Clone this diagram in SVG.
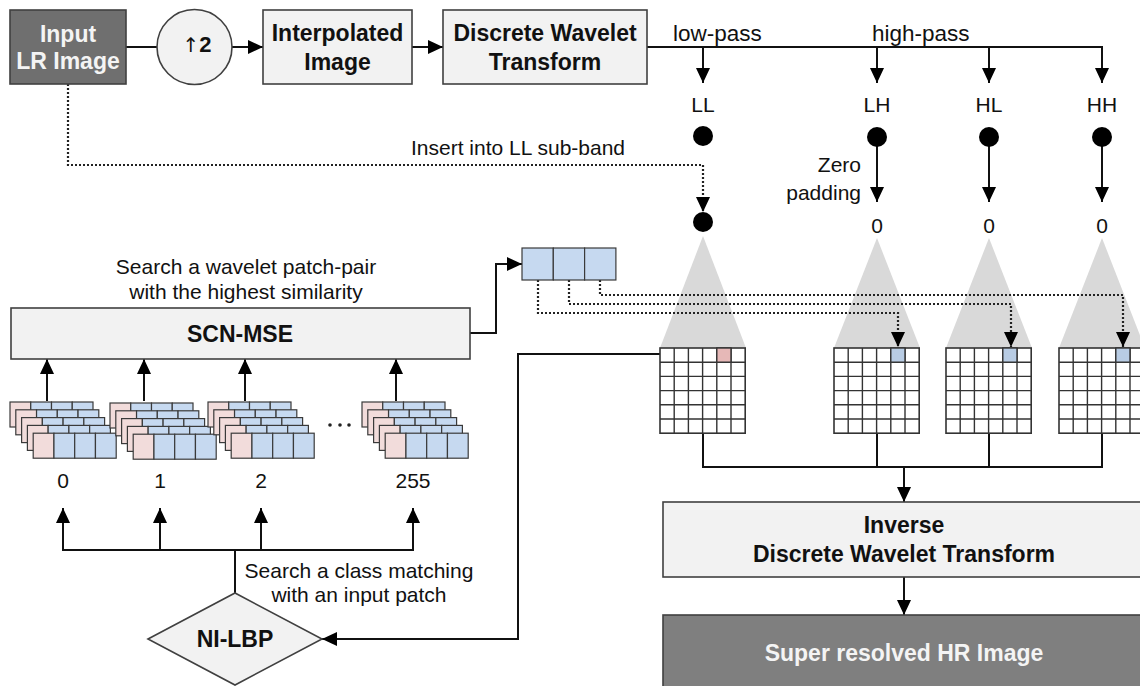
<svg xmlns="http://www.w3.org/2000/svg" xmlns:xlink="http://www.w3.org/1999/xlink" width="1140" height="686" viewBox="0 0 1140 686">
  <style>
    .box { fill: #f2f2f2; stroke: #404040; stroke-width: 1.6; }
    .dark { fill: #6f6f6f; stroke: #404040; stroke-width: 1.6; }
    .dark2 { fill: #7f7f7f; stroke: #404040; stroke-width: 1.6; }
    .bold { font-family: "Liberation Sans", Arial, sans-serif; font-weight: bold; font-size: 23px; fill: #111; text-anchor: middle; }
    .wbold { font-family: "Liberation Sans", Arial, sans-serif; font-weight: bold; font-size: 23px; fill: #f4f4f4; text-anchor: middle; }
    .lbl { font-family: "Liberation Sans", Arial, sans-serif; font-size: 21px; fill: #111; text-anchor: middle; }
    .lbl-s { font-family: "Liberation Sans", Arial, sans-serif; font-size: 21px; fill: #111; }
    .lbl-e { font-family: "Liberation Sans", Arial, sans-serif; font-size: 21px; fill: #111; text-anchor: end; }
    .pass { font-family: "Liberation Sans", Arial, sans-serif; font-size: 22.5px; fill: #111; }
    .wire { fill: none; stroke: #111; stroke-width: 2; }
    .dot-line { fill: none; stroke: #222; stroke-width: 2.2; stroke-dasharray: 2 2; }
    .pink { fill: #f2dcdb; stroke: #3a3a3a; stroke-width: 1.2; }
    .blue { fill: #c6d9f0; stroke: #3a3a3a; stroke-width: 1.2; }
    .cone { fill: #d9d9d9; }
    .gridln { fill: none; stroke: #333; stroke-width: 1.4; }
  </style>
  <defs>
    <marker id="arrow" markerUnits="userSpaceOnUse" markerWidth="16" markerHeight="16" refX="15" refY="7" orient="auto">
      <path d="M0,0 L15,7 L0,14 z" fill="#000"/>
    </marker>
    <!-- one patch-pair row: pink LR patch + three blue wavelet patches -->
    <g id="pair">
      <rect class="pink" x="0" y="0" width="20.75" height="25"/>
      <rect class="blue" x="20.75" y="0" width="20.75" height="25"/>
      <rect class="blue" x="41.5" y="0" width="20.75" height="25"/>
      <rect class="blue" x="62.25" y="0" width="20.75" height="25"/>
    </g>
    <g id="stack">
      <use xlink:href="#pair" x="0" y="0"/>
      <use xlink:href="#pair" x="5.8" y="7.8"/>
      <use xlink:href="#pair" x="11.6" y="15.6"/>
      <use xlink:href="#pair" x="17.4" y="23.4"/>
      <use xlink:href="#pair" x="23.2" y="31.2"/>
    </g>
    <!-- 6x6 sub-band grid, cell 14.2 -->
    <g id="grid">
      <rect x="0" y="0" width="85.2" height="85.2" fill="#fff" stroke="#333" stroke-width="1.6"/>
      <path class="gridln" d="M14.2,0V85.2M28.4,0V85.2M42.6,0V85.2M56.8,0V85.2M71,0V85.2M0,14.2H85.2M0,28.4H85.2M0,42.6H85.2M0,56.8H85.2M0,71H85.2"/>
    </g>
  </defs>

  <!-- sub-band cones -->
  <g id="cones">
    <polygon class="cone" points="703,236 660,348 746,348"/>
    <polygon class="cone" points="877,238 834,348 920,348"/>
    <polygon class="cone" points="989,238 946,348 1032,348"/>
    <polygon class="cone" points="1102,238 1059,348 1145,348"/>
  </g>

  <!-- connectors -->
  <g id="connectors">
    <line class="wire" x1="126" y1="47" x2="157" y2="47"/>
    <line class="wire" x1="232" y1="47" x2="263" y2="47" marker-end="url(#arrow)"/>
    <line class="wire" x1="412" y1="47" x2="443" y2="47" marker-end="url(#arrow)"/>
    <polyline class="wire" points="647,47 1102,47 1102,83" marker-end="url(#arrow)"/>
    <line class="wire" x1="703" y1="47" x2="703" y2="83" marker-end="url(#arrow)"/>
    <line class="wire" x1="877" y1="47" x2="877" y2="83" marker-end="url(#arrow)"/>
    <line class="wire" x1="989" y1="47" x2="989" y2="83" marker-end="url(#arrow)"/>
    <!-- zero padding of high-pass bands -->
    <line class="wire" x1="877" y1="137" x2="877" y2="202" marker-end="url(#arrow)"/>
    <line class="wire" x1="989" y1="137" x2="989" y2="202" marker-end="url(#arrow)"/>
    <line class="wire" x1="1102" y1="137" x2="1102" y2="202" marker-end="url(#arrow)"/>
    <!-- LR image into LL sub-band -->
    <polyline class="dot-line" points="68,84 68,165 703,165 703,212" marker-end="url(#arrow)"/>
    <!-- SCN-MSE to selected patch-pair -->
    <polyline class="wire" points="470,333 496,333 496,264 522,264" marker-end="url(#arrow)"/>
    <!-- wavelet patches to high-pass grids -->
    <polyline class="dot-line" points="538,280 538,313 898,313 898,347" marker-end="url(#arrow)"/>
    <polyline class="dot-line" points="569,280 569,304 1011,304 1011,347" marker-end="url(#arrow)"/>
    <polyline class="dot-line" points="600,280 600,295 1123,295 1123,347" marker-end="url(#arrow)"/>
    <!-- class stacks into SCN-MSE -->
    <line class="wire" x1="47" y1="401" x2="47" y2="359" marker-end="url(#arrow)"/>
    <line class="wire" x1="144" y1="401" x2="144" y2="359" marker-end="url(#arrow)"/>
    <line class="wire" x1="245" y1="401" x2="245" y2="359" marker-end="url(#arrow)"/>
    <line class="wire" x1="396" y1="401" x2="396" y2="359" marker-end="url(#arrow)"/>
    <!-- NI-LBP fan-out to classes -->
    <polyline class="wire" points="235,593 235,550"/>
    <line class="wire" x1="63" y1="550" x2="413" y2="550"/>
    <line class="wire" x1="63" y1="551" x2="63" y2="508" marker-end="url(#arrow)"/>
    <line class="wire" x1="160" y1="551" x2="160" y2="508" marker-end="url(#arrow)"/>
    <line class="wire" x1="261" y1="551" x2="261" y2="508" marker-end="url(#arrow)"/>
    <line class="wire" x1="413" y1="551" x2="413" y2="508" marker-end="url(#arrow)"/>
    <!-- input patch back to NI-LBP -->
    <polyline class="wire" points="717,354 518,354 518,639 322,639" marker-end="url(#arrow)"/>
    <!-- grids to IDWT -->
    <polyline class="wire" points="703,433 703,467 1102,467 1102,433"/>
    <line class="wire" x1="877" y1="433" x2="877" y2="467"/>
    <line class="wire" x1="989" y1="433" x2="989" y2="467"/>
    <line class="wire" x1="904" y1="466" x2="904" y2="502" marker-end="url(#arrow)"/>
    <line class="wire" x1="904" y1="577" x2="904" y2="615" marker-end="url(#arrow)"/>
  </g>

  <g id="input-lr">
    <rect class="dark" x="10" y="10" width="116" height="74"/>
    <text class="wbold" x="68" y="42">Input</text>
    <text class="wbold" x="68" y="69">LR Image</text>
  </g>

  <g id="upsample">
    <circle cx="194.5" cy="47" r="37.5" class="box"/>
    <text class="lbl" x="197" y="52"><tspan font-family="DejaVu Sans, sans-serif" font-size="20">↑</tspan><tspan font-weight="bold" font-size="22">2</tspan></text>
  </g>

  <g id="interpolated">
    <rect class="box" x="263" y="10" width="149" height="74"/>
    <text class="bold" x="337.5" y="41">Interpolated</text>
    <text class="bold" x="337.5" y="70">Image</text>
  </g>

  <g id="dwt">
    <rect class="box" x="443" y="10" width="204" height="74"/>
    <text class="bold" x="545" y="41">Discrete Wavelet</text>
    <text class="bold" x="545" y="70">Transform</text>
  </g>

  <g id="band-labels">
    <text class="pass" x="673" y="41">low-pass</text>
    <text class="pass" x="872" y="41">high-pass</text>
    <text class="lbl" x="703" y="112">LL</text>
    <text class="lbl" x="877" y="112">LH</text>
    <text class="lbl" x="989" y="112">HL</text>
    <text class="lbl" x="1102" y="112">HH</text>
    <circle cx="703" cy="136" r="10"/>
    <circle cx="877" cy="137" r="10"/>
    <circle cx="989" cy="137" r="10"/>
    <circle cx="1102" cy="137" r="10"/>
    <text class="lbl-e" x="861" y="172">Zero</text>
    <text class="lbl-e" x="861" y="200">padding</text>
    <text class="lbl" x="877" y="233">0</text>
    <text class="lbl" x="989" y="233">0</text>
    <text class="lbl" x="1102" y="233">0</text>
    <text class="lbl-s" x="411" y="155">Insert into LL sub-band</text>
    <circle cx="703" cy="222" r="10"/>
  </g>

  <g id="patch-pair">
    <rect class="blue" x="522" y="248" width="31.3" height="32" stroke-width="1.6"/>
    <rect class="blue" x="553.3" y="248" width="31.3" height="32" stroke-width="1.6"/>
    <rect class="blue" x="584.6" y="248" width="31.3" height="32" stroke-width="1.6"/>
  </g>

  <g id="scn-mse">
    <text class="lbl" x="246" y="274">Search a wavelet patch-pair</text>
    <text class="lbl" x="246" y="299">with the highest similarity</text>
    <rect class="box" x="11" y="308" width="459" height="51"/>
    <text class="bold" x="240" y="342">SCN-MSE</text>
  </g>

  <g id="classes">
    <use xlink:href="#stack" x="10" y="402"/>
    <use xlink:href="#stack" x="110" y="403"/>
    <use xlink:href="#stack" x="208" y="402"/>
    <use xlink:href="#stack" x="362" y="402"/>
    <circle cx="330" cy="425" r="1.8" fill="#222"/>
    <circle cx="340" cy="425" r="1.8" fill="#222"/>
    <circle cx="349" cy="425" r="1.8" fill="#222"/>
    <text class="lbl" x="63" y="488">0</text>
    <text class="lbl" x="160" y="488">1</text>
    <text class="lbl" x="261" y="488">2</text>
    <text class="lbl" x="413" y="488">255</text>
  </g>

  <g id="ni-lbp">
    <text class="lbl" x="359" y="578">Search a class matching</text>
    <text class="lbl" x="359" y="602">with an input patch</text>
    <polygon class="box" points="148,639 235,593 322,639 235,685"/>
    <text class="bold" x="235" y="647">NI-LBP</text>
  </g>

  <g id="grid-ll">
    <use xlink:href="#grid" x="660" y="348"/>
    <rect x="716.8" y="348" width="14.2" height="14.2" fill="#e6b8b7" stroke="#333" stroke-width="1.4"/>
  </g>
  <g id="grid-lh">
    <use xlink:href="#grid" x="834" y="348"/>
    <rect x="890.8" y="348" width="14.2" height="14.2" fill="#b8cce4" stroke="#333" stroke-width="1.4"/>
  </g>
  <g id="grid-hl">
    <use xlink:href="#grid" x="946" y="348"/>
    <rect x="1002.8" y="348" width="14.2" height="14.2" fill="#b8cce4" stroke="#333" stroke-width="1.4"/>
  </g>
  <g id="grid-hh">
    <use xlink:href="#grid" x="1059" y="348"/>
    <rect x="1115.8" y="348" width="14.2" height="14.2" fill="#b8cce4" stroke="#333" stroke-width="1.4"/>
  </g>

  <g id="idwt">
    <rect class="box" x="663" y="502" width="490" height="75"/>
    <text class="bold" x="904" y="533">Inverse</text>
    <text class="bold" x="904" y="562">Discrete Wavelet Transform</text>
  </g>

  <g id="hr-output">
    <rect class="dark2" x="663" y="615" width="490" height="90"/>
    <text class="wbold" x="904" y="661">Super resolved HR Image</text>
  </g>
</svg>
